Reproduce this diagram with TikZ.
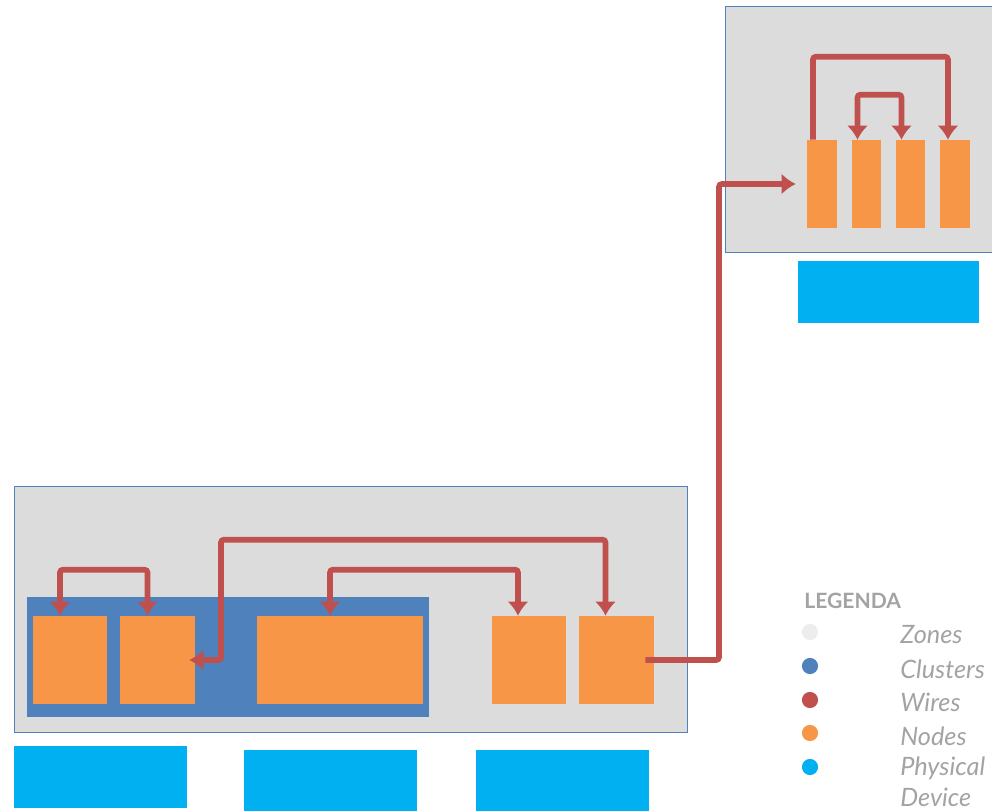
\documentclass[tikz,border=0pt]{standalone}
\usepackage{fontspec}
\setmainfont{Lato}
\usetikzlibrary{arrows.meta,fit,calc}
\definecolor{zonegris}{HTML}{DCDCDC}
\definecolor{clusterazul}{HTML}{4F81BD}
\definecolor{nodonaranja}{HTML}{F79646}
\definecolor{devicecian}{HTML}{00B0F0}
\definecolor{wirerojo}{HTML}{C0504D}
\definecolor{textogris}{HTML}{A3A3A3}
\tikzset{
  zonebox/.style={fill=zonegris, draw=clusterazul, line width=0.6pt, inner sep=0pt},
  clusterbox/.style={fill=clusterazul, inner sep=0pt},
  nodebox/.style={fill=nodonaranja, inner sep=0pt},
  devicebox/.style={fill=devicecian, inner sep=0pt},
  wire/.style={draw=wirerojo, line width=4pt, rounded corners=2pt,
    arrows={-Latex[length=10pt,width=15pt]}},
  wire2/.style={wire, arrows={Latex[length=10pt,width=15pt]-Latex[length=10pt,width=15pt]}},
  legdot/.style={circle, minimum size=11.5pt, inner sep=0pt},
  legtext/.style={anchor=west, text=textogris, inner sep=0pt,
    font=\fontsize{18}{22}\selectfont\itshape}
}

\begin{document}
\begin{tikzpicture}[x=0.025cm, y=-0.025cm]
	\useasboundingbox (0,0) rectangle (992,810);

	% zones
	\node[zonebox, fit={(14,486) (687,732)}] (zonebajo) {};
	\node[zonebox, fit={(725,6) (1000,252)}] (zonealto) {};

	% cluster
	\node[clusterbox, fit={(27,597) (429,717)}] (cluster) {};

	% nodes, lower zone
	\node[nodebox, fit={(33,616) (107,704)}] (n1) {};
	\node[nodebox, fit={(120,616) (195,704)}] (n2) {};
	\node[nodebox, fit={(257,616) (423,704)}] (n3) {};
	\node[nodebox, fit={(492,616) (566,704)}] (n4) {};
	\node[nodebox, fit={(579,616) (654,704)}] (n5) {};

	% nodes, upper zone
	\node[nodebox, fit={(807,140) (837,228)}] (t1) {};
	\node[nodebox, fit={(852,140) (881,228)}] (t2) {};
	\node[nodebox, fit={(896,140) (925,228)}] (t3) {};
	\node[nodebox, fit={(940,140) (970,228)}] (t4) {};

	% physical devices
	\node[devicebox, fit={(14,746) (187,808)}] (dev1) {};
	\node[devicebox, fit={(244,750) (417,812)}] (dev2) {};
	\node[devicebox, fit={(476,750) (649,812)}] (dev3) {};
	\node[devicebox, fit={(798,261) (979,323)}] (dev4) {};

	% wires
	\draw[wire2] ($(n1.north)+(-10,0)$) -- ++(0,-46) -| ($(n2.north)+(-10,0)$);
	\draw[wire2] ($(n3.north)+(-10,0)$) -- ++(0,-46) -| ($(n4.north)+(-11,0)$);
	\draw[wire2] ($(n5.north)+(-11,0)$) -- ++(0,-76) -| (221,660) -- ($(n2.east)+(-6,0)$);
	\draw[wire] ($(n5.east)+(-9,0)$) -- (719,660) |- ($(t1.west)+(-11,0)$);
	\draw[wire] ($(t1.north)+(-9,0)$) -- ++(0,-83) -| ($(t4.north)+(-7,0)$);
	\draw[wire2] ($(t2.north)+(-9,0)$) -- ++(0,-45) -| ($(t3.north)+(-9,0)$);

	% legend
	\node[anchor=west, text=textogris, inner sep=0pt, font=\fontsize{15}{18}\selectfont\bfseries] (legenda) at (804,601) {LEGENDA};
	\node[legdot, fill=black!7] (d1) at (810,632) {};
	\node[legdot, fill=clusterazul] (d2) at (810,666) {};
	\node[legdot, fill=wirerojo] (d3) at (810,700) {};
	\node[legdot, fill=nodonaranja] (d4) at (810,733) {};
	\node[legdot, fill=devicecian] (d5) at (810,767) {};
	\node[legtext] (l1) at (900,635) {Zones};
	\node[legtext] (l2) at (900,669) {Clusters};
	\node[legtext] (l3) at (900,702) {Wires};
	\node[legtext] (l4) at (900,736) {Nodes};
	\node[legtext, align=left, anchor=north west] (l5) at (900,757) {Physical\\Device};

\end{tikzpicture}
\end{document}
